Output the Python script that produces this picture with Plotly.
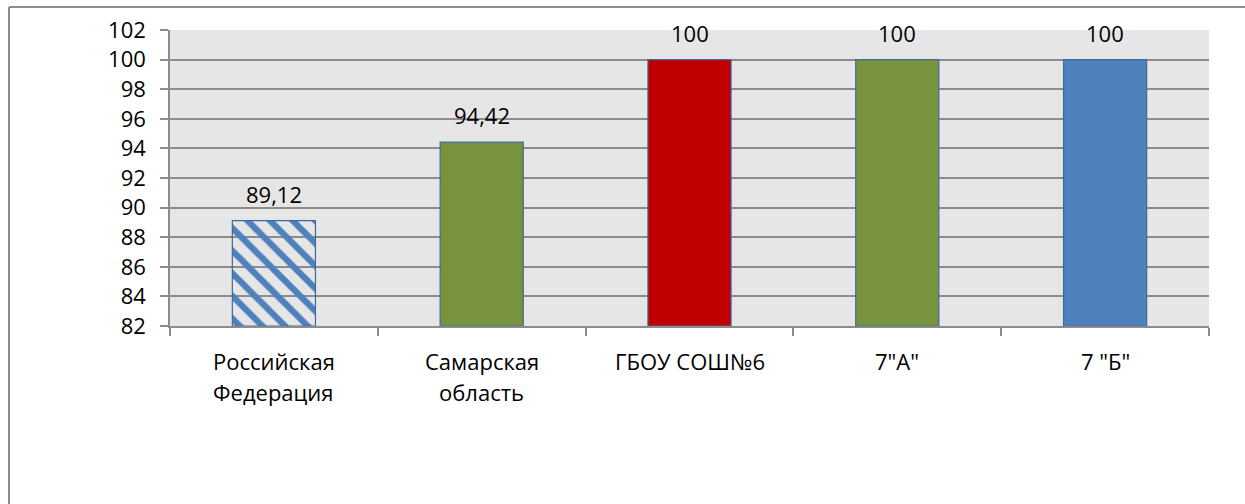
import plotly.graph_objects as go

categories = ["Российская Федерация", "Самарская область", "ГБОУ СОШ№6", "7\"А\"", "7 \"Б\""]
category_lines = [["Российская", "Федерация"], ["Самарская", "область"], ["ГБОУ СОШ№6"], ["7\"А\""], ["7 \"Б\""]]
values = [89.12, 94.42, 100, 100, 100]
value_labels = ["89,12", "94,42", "100", "100", "100"]
bar_colors = ["#4F81BD", "#77933C", "#C00000", "#77933C", "#4F81BD"]
bar_patterns = ["\\", "", "", "", ""]
y_ticks = list(range(82, 103, 2))
y_min, y_max = 82, 102

W, H = 1245, 504
L, R, T, B = 170, 36, 30, 178
FONT = "Open Sans"
FS = 22

fig = go.Figure()
fig.add_trace(go.Bar(
    x=categories, y=[v - y_min for v in values], base=y_min, width=0.4,
    marker=dict(
        color=bar_colors,
        line=dict(color="#3F6A9E", width=1.2),
        pattern=dict(shape=bar_patterns, bgcolor="#FFFFFF", fgopacity=1,
                     size=16, solidity=0.4, fillmode="replace"),
    ),
    hoverinfo="skip",
))

annotations = []
for c, v, t in zip(categories, values, value_labels):
    annotations.append(dict(x=c, y=v, xref="x", yref="y", text=t, showarrow=False,
                            yshift=27, font=dict(family=FONT, size=FS, color="#000000")))
for c, lines in zip(categories, category_lines):
    for i, ln in enumerate(lines):
        annotations.append(dict(x=c, y=0, xref="x", yref="paper", text=ln, showarrow=False,
                                yanchor="middle", yshift=-35 - 31 * i,
                                font=dict(family=FONT, size=FS, color="#000000")))

pw = W - L - R
ph = H - T - B
def px_x(p):
    return (p - L) / pw
def px_y(p):
    return (H - B - p) / ph

shapes = [
    dict(type="line", xref="paper", yref="paper", x0=px_x(9), x1=px_x(1250), y0=px_y(7), y1=px_y(7),
         line=dict(color="#8C8C8C", width=2)),
    dict(type="line", xref="paper", yref="paper", x0=px_x(9), x1=px_x(9), y0=px_y(7), y1=px_y(510),
         line=dict(color="#8C8C8C", width=2)),
]

fig.update_layout(
    width=W, height=H,
    margin=dict(l=L, r=R, t=T, b=B),
    paper_bgcolor="#FFFFFF",
    plot_bgcolor="#E6E6E6",
    showlegend=False,
    annotations=annotations,
    shapes=shapes,
    font=dict(family=FONT, size=FS, color="#000000"),
)
fig.update_yaxes(
    range=[y_min, y_max], tickvals=y_ticks, ticktext=[str(t) for t in y_ticks],
    showgrid=True, gridcolor="#8C8C8C", gridwidth=1.5,
    showline=True, linecolor="#8C8C8C", linewidth=1.5,
    ticks="outside", ticklen=8, tickcolor="#8C8C8C", tickwidth=1.5,
    ticklabelstandoff=10,
    tickfont=dict(family=FONT, size=FS, color="#000000"),
    zeroline=False,
)
fig.update_xaxes(
    showticklabels=False, showline=True, linecolor="#8C8C8C", linewidth=1.5,
    ticks="outside", ticklen=8, tickcolor="#8C8C8C", tickwidth=1.5,
    tickson="boundaries", showgrid=False,
)
fig.write_html("out.html", config={"displayModeBar": False},
               post_script="document.body.style.margin='0';document.body.style.overflow='hidden';")
